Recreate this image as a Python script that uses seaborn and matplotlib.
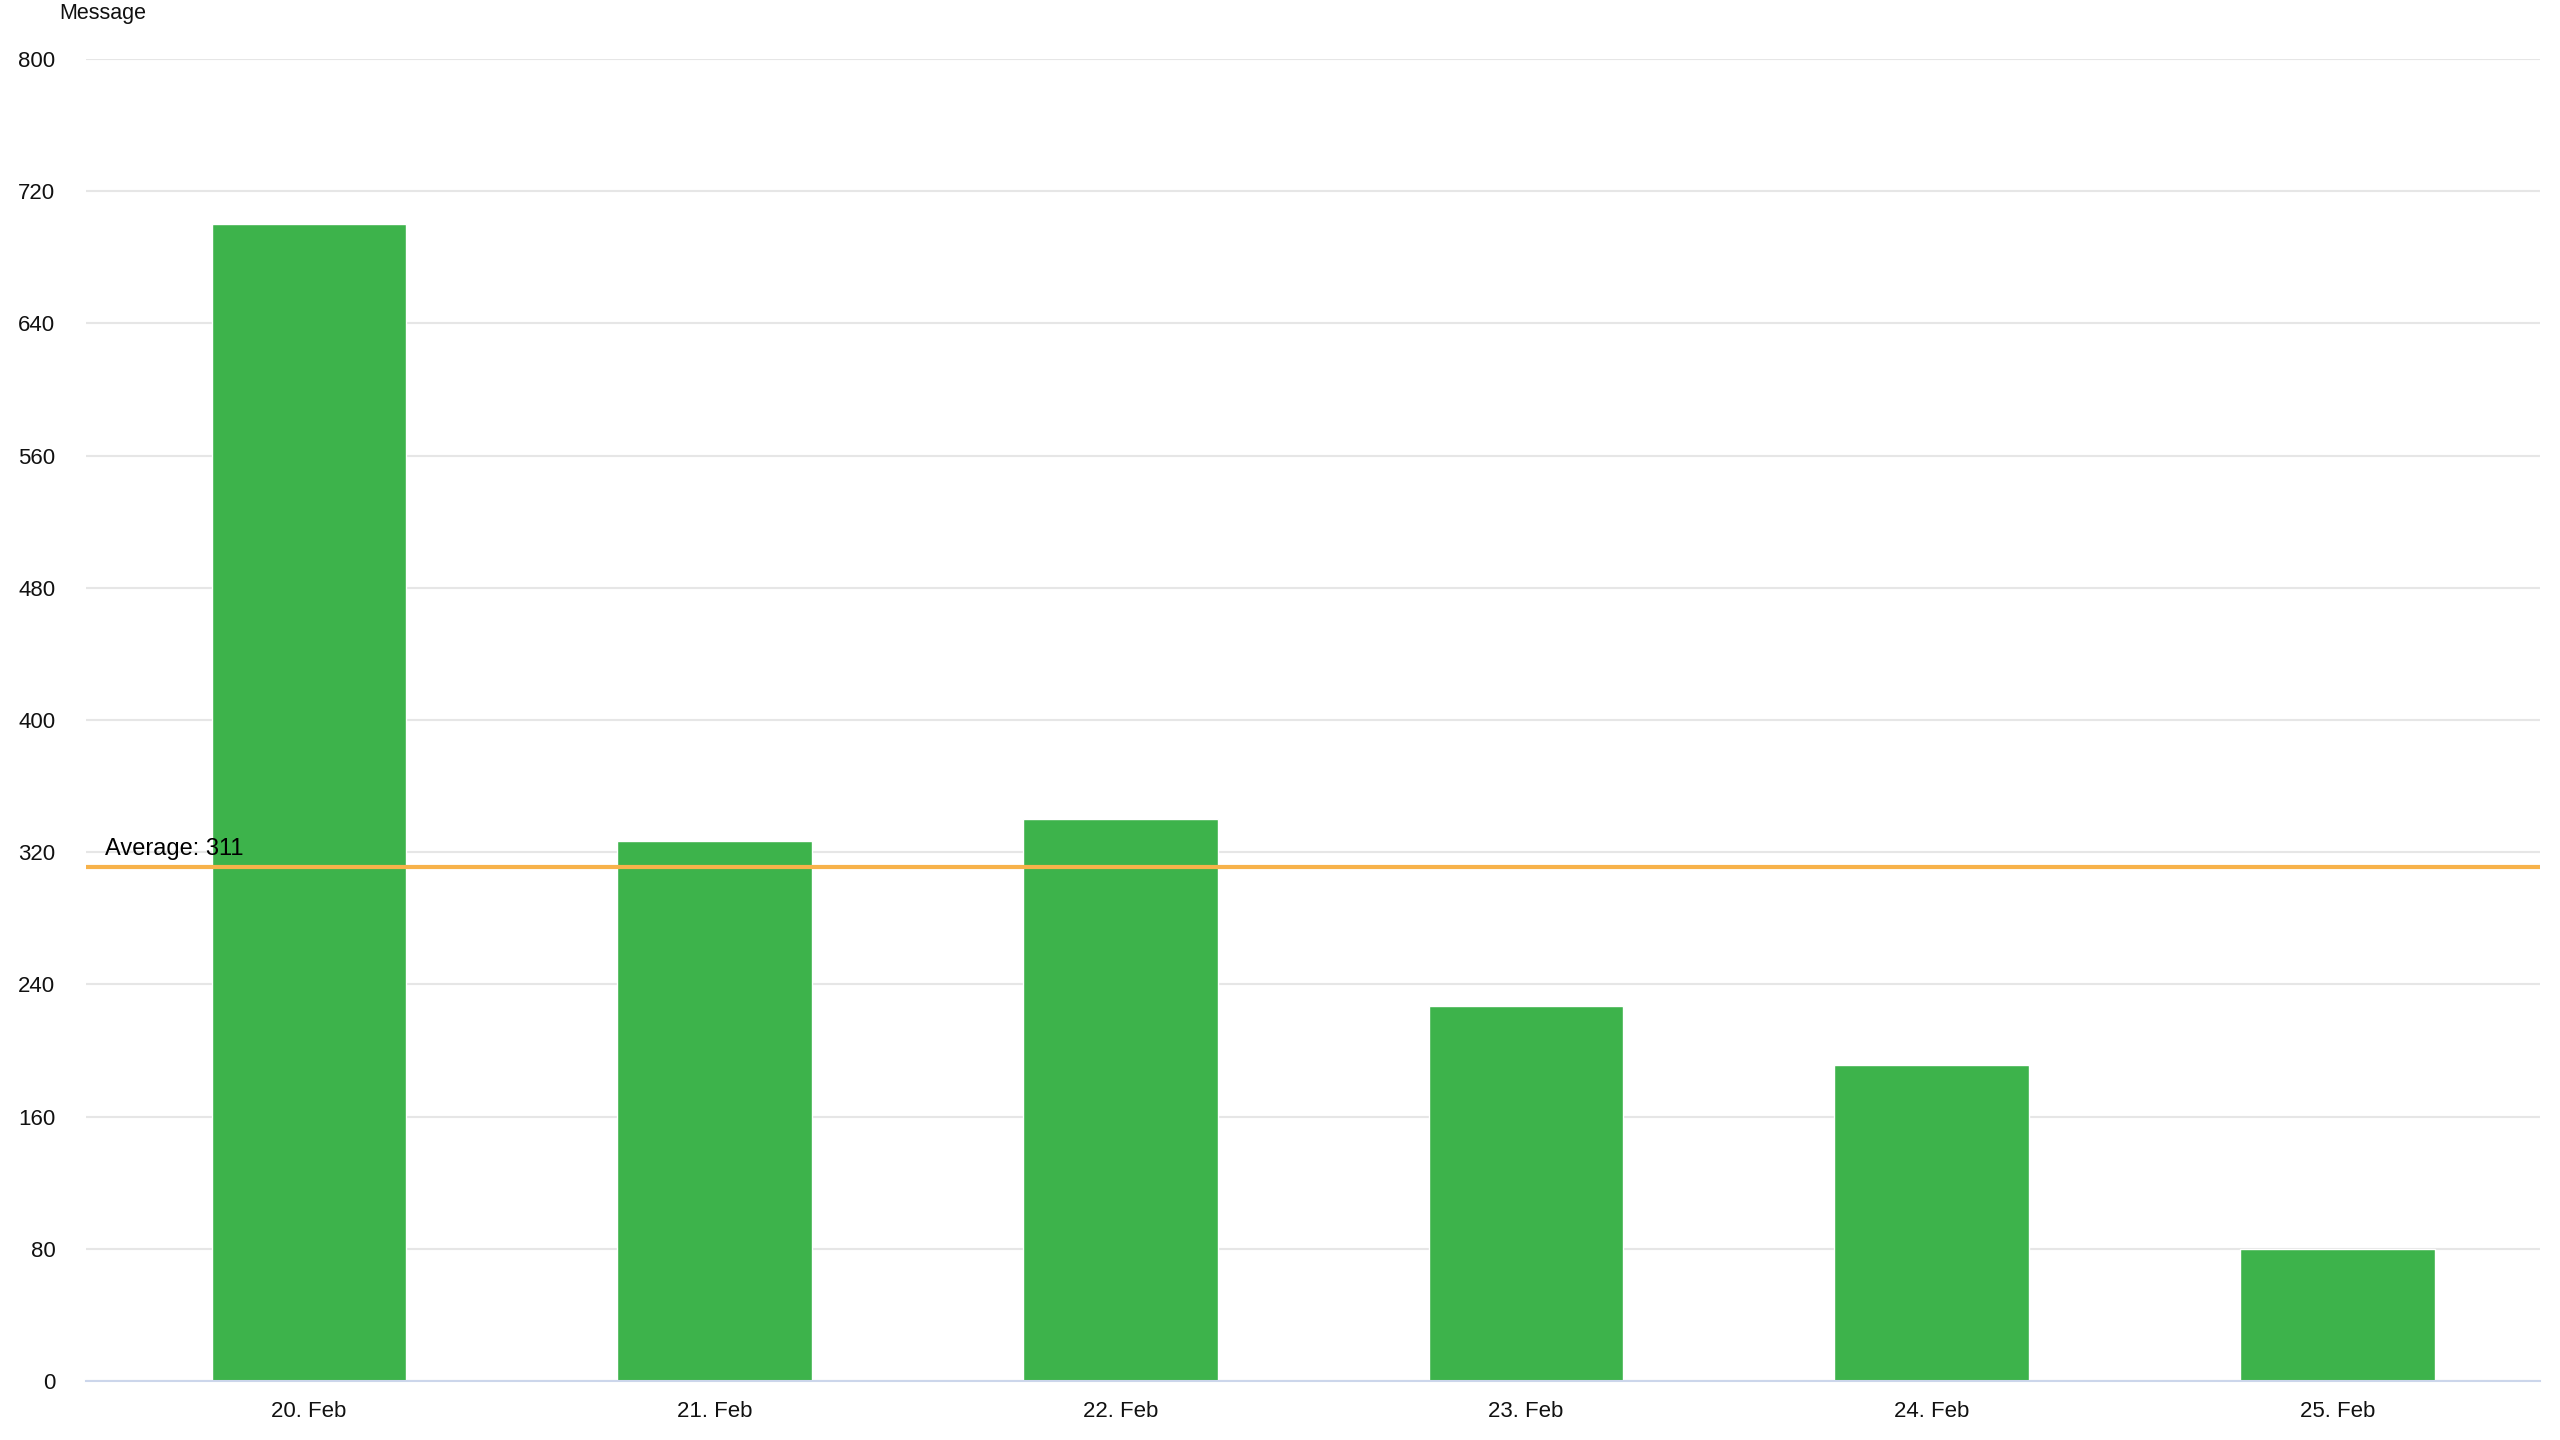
import numpy as np
import pandas as pd
import matplotlib
matplotlib.use('Agg')
import matplotlib.pyplot as plt
import seaborn as sns

dates = ['20. Feb', '21. Feb', '22. Feb', '23. Feb', '24. Feb', '25. Feb']
messages = [700, 327, 340, 227, 191, 80]
y_ticks = [0, 80, 160, 240, 320, 400, 480, 560, 640, 720, 800]

df = pd.DataFrame({'date': dates, 'messages': messages})
avg = np.mean(messages)

sns.set_style('white')
plt.rcParams['font.family'] = ['Liberation Sans', 'DejaVu Sans']

fig = plt.figure(figsize=(25.6, 14.4), dpi=100)
ax = fig.add_axes([0.0336, 0.041, 0.9586, 0.918])

sns.barplot(data=df, x='date', y='messages', color='#3db34b', saturation=1,
            width=0.48, ax=ax, zorder=2)

ax.axhline(avg, color='#f7b24a', lw=3, zorder=3)
ax.annotate(f'Average: {round(avg)}', xy=(0, avg), xycoords=('axes fraction', 'data'),
            xytext=(14, 5), textcoords='offset points', fontsize=17, color='black',
            va='bottom', ha='left', zorder=4)

ax.set_ylim(0, 800)
ax.set_xlim(-0.55, 5.5)
ax.set_yticks(y_ticks)
ax.set_yticklabels([str(t) for t in y_ticks])
ax.yaxis.grid(True, color='#e6e6e6', lw=1.5, zorder=0)
ax.set_axisbelow(True)

for s in ['top', 'right', 'left']:
    ax.spines[s].set_visible(False)
ax.spines['bottom'].set_color('#ccd6eb')
ax.spines['bottom'].set_linewidth(1.5)

ax.tick_params(axis='y', length=0, pad=22, labelsize=16, labelcolor='#111111')
ax.tick_params(axis='x', length=17, width=1.2, color='#ccd6eb', pad=-2.5,
               labelsize=16, labelcolor='#111111')
ax.set_xlabel('')
ax.set_ylabel('')

fig.text(0.0232, 0.9905, 'Message', fontsize=15.5, color='#111111', ha='left', va='center')

fig.savefig('out.png', dpi=100)
